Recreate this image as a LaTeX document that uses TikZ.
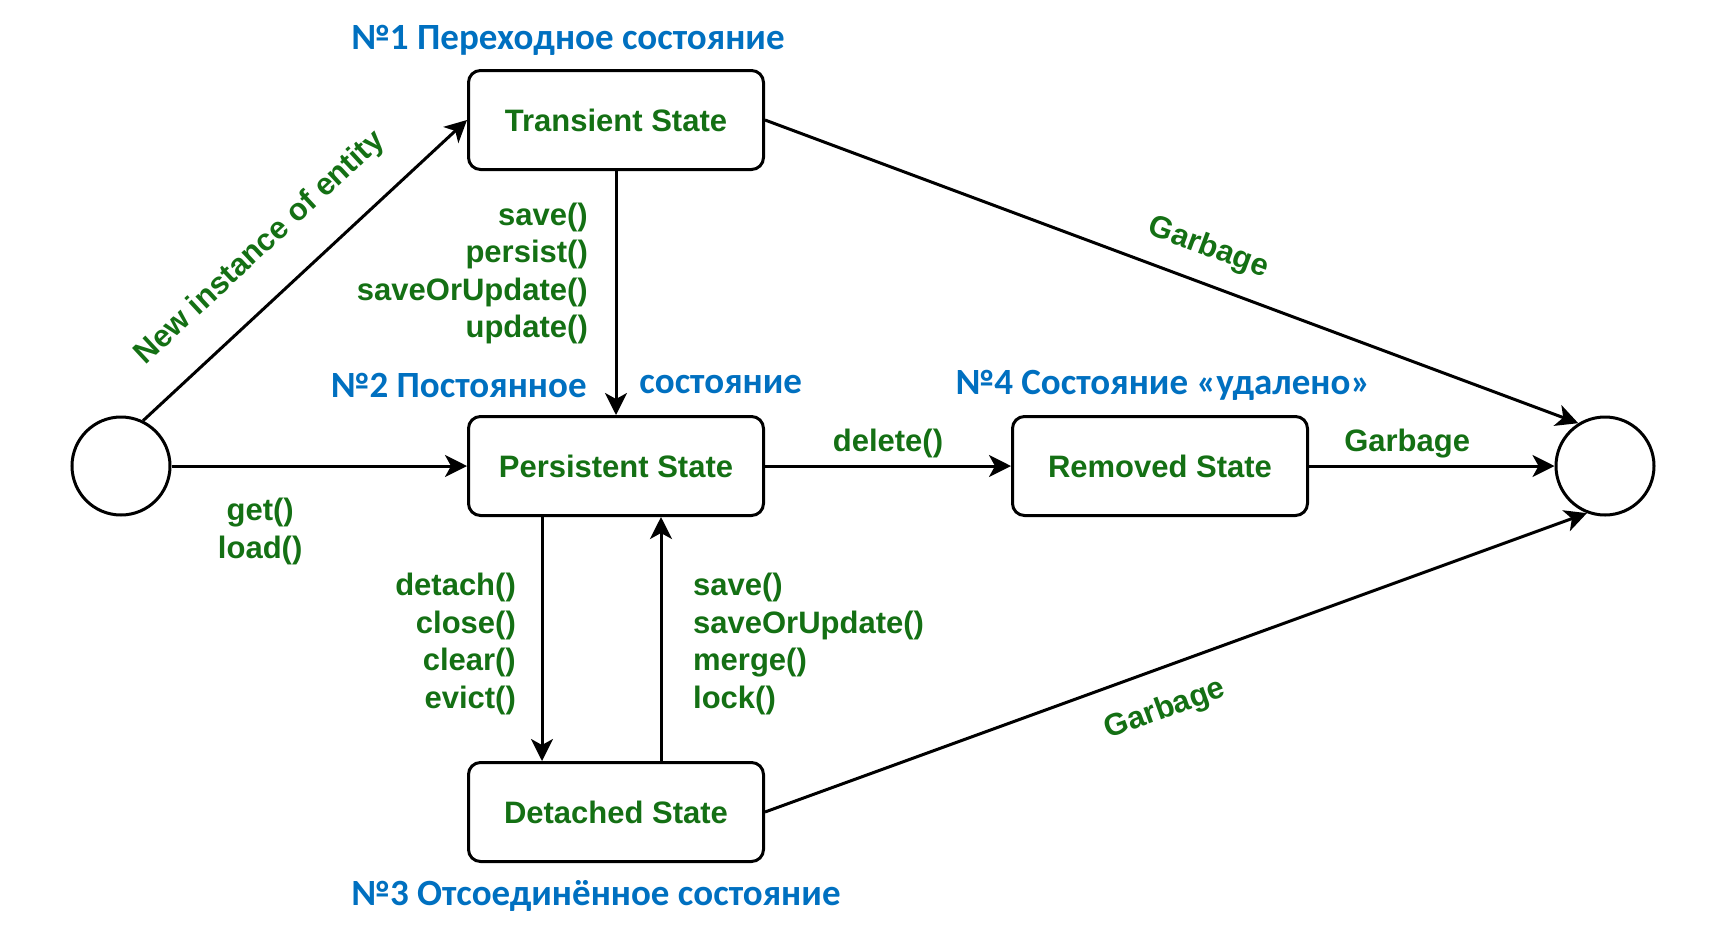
\documentclass[tikz,border=0pt]{standalone}
\usepackage{fontspec}
\setmainfont{Liberation Sans}
\newfontfamily\bluefont{Carlito}
\usetikzlibrary{arrows.meta,positioning}
\definecolor{callgreen}{RGB}{20,112,20}
\definecolor{titleblue}{RGB}{0,112,192}

\begin{document}
\begin{tikzpicture}[
  x=0.5pt, y=-0.5pt,
  every node/.style={font=\fontsize{15.5}{18.75}\selectfont\bfseries, text=callgreen},
  state/.style={draw=black, line width=1.5pt, rounded corners=6pt, minimum width=147.5pt, minimum height=49.5pt},
  endpt/.style={draw=black, line width=1.5pt, circle, minimum size=49pt, inner sep=0pt},
  title/.style={font=\bluefont\fontsize{18.5}{22}\selectfont\bfseries, text=titleblue, inner sep=0pt},
  trans/.style={line width=1.5pt, -{Stealth[length=11pt, width=11pt, inset=3pt]}},
]
\useasboundingbox (0,0) rectangle (1715,944);
% start and end points
\node[endpt] (start) at (121,466) {};
\node[endpt] (final) at (1605,466) {};
% states
\node[state] (transient) at (616,120) {Transient State};
\node[state] (persistent) at (616,466) {Persistent State};
\node[state] (removed) at (1160,466) {Removed State};
\node[state] (detached) at (616,812) {Detached State};
% titles
\node[title] (t1) at (568,40) {№1 Переходное состояние};
\node[title, anchor=east] (t2a) at (587,385) {№2 Постоянное};
\node[title, anchor=west] (t2b) at (639,385) {состояние};
\node[title] (t4) at (1163,385) {№4 Состояние «удалено»};
\node[title] (t3) at (596,896) {№3 Отсоединённое состояние};
% transitions
\draw[trans] (start.64) -- (transient.west)
  node[sloped, above=12pt, pos=0.46] {New instance of entity};
\draw[trans] (start) -- (persistent)
  node[below=12pt, pos=0.3, align=center] {get()\\load()};
\draw[trans] (transient) -- (persistent)
  node[left=10pt, pos=0.42, align=right] {save()\\persist()\\saveOrUpdate()\\update()};
\draw[trans] (persistent) -- (removed) node[above, midway] {delete()};
\draw[trans] (removed) -- (final.west) node[above, pos=0.4] {Garbage};
\draw[trans] (transient.east) -- (final.122)
  node[sloped, above=6pt, pos=0.53] {Garbage};
\draw[trans] (detached.east) -- (final.249)
  node[sloped, below=9pt, pos=0.47] {Garbage};
\draw[trans] ([xshift=-37pt]persistent.south) -- ([xshift=-37pt]detached.north)
  node[left=9pt, pos=0.52, align=right] {detach()\\close()\\clear()\\evict()};
\draw[trans] ([xshift=22.5pt]detached.north) -- ([xshift=22.5pt]persistent.south)
  node[right=12pt, pos=0.48, align=left] {save()\\saveOrUpdate()\\merge()\\lock()};
\end{tikzpicture}
\end{document}
